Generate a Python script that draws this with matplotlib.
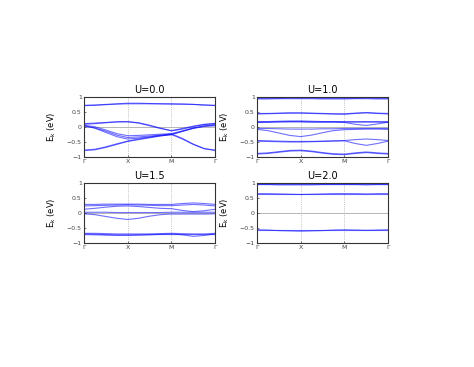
import matplotlib
matplotlib.use('Agg')
import matplotlib.pyplot as plt
import numpy as np

# k-path sample points (Gamma-X-M-Gamma), 13 samples per band
k_points = np.linspace(0, 3, 13)
k_ticks = [0, 1, 2, 3]
k_labels = ['Γ', 'X', 'M', 'Γ']
y_ticks = [-1, -0.5, 0, 0.5, 1]
y_ticklabels = ['−1', '−0.5', '0', '0.5', '1']
titles = ['U=0.0', 'U=1.0', 'U=1.5', 'U=2.0']

# --- band energies (eV) ---
bands_u00 = [
    [0.71, 0.72, 0.74, 0.76, 0.77, 0.77, 0.77, 0.77, 0.76, 0.76, 0.75, 0.73, 0.71],
    [0.72, 0.73, 0.75, 0.77, 0.79, 0.79, 0.78, 0.77, 0.77, 0.76, 0.75, 0.73, 0.72],
    [0.11, 0.13, 0.15, 0.17, 0.18, 0.14, 0.06, -0.04, -0.13, -0.07, 0.01, 0.08, 0.11],
    [0.09, 0.11, 0.14, 0.17, 0.17, 0.13, 0.04, -0.05, -0.12, -0.05, 0.03, 0.09, 0.12],
    [0.06, 0.01, -0.10, -0.22, -0.29, -0.28, -0.26, -0.24, -0.22, -0.13, -0.04, 0.03, 0.06],
    [0.03, -0.03, -0.14, -0.27, -0.35, -0.33, -0.30, -0.27, -0.24, -0.15, -0.05, 0.02, 0.04],
    [0.05, -0.04, -0.18, -0.32, -0.40, -0.37, -0.33, -0.29, -0.26, -0.14, -0.03, 0.04, 0.08],
    [-0.78, -0.76, -0.68, -0.58, -0.48, -0.42, -0.36, -0.30, -0.25, -0.40, -0.58, -0.72, -0.78],
    [-0.77, -0.74, -0.66, -0.56, -0.47, -0.40, -0.34, -0.28, -0.23, -0.38, -0.57, -0.72, -0.77],
]
bands_u10 = [
    [0.93, 0.93, 0.94, 0.94, 0.94, 0.94, 0.93, 0.93, 0.93, 0.94, 0.94, 0.93, 0.93],
    [0.95, 0.95, 0.95, 0.96, 0.96, 0.96, 0.95, 0.95, 0.95, 0.95, 0.96, 0.95, 0.95],
    [0.43, 0.44, 0.45, 0.46, 0.46, 0.45, 0.44, 0.43, 0.42, 0.45, 0.47, 0.45, 0.43],
    [0.45, 0.45, 0.46, 0.47, 0.47, 0.46, 0.45, 0.44, 0.44, 0.46, 0.48, 0.46, 0.45],
    [0.15, 0.16, 0.17, 0.18, 0.18, 0.17, 0.17, 0.17, 0.16, 0.16, 0.16, 0.16, 0.15],
    [0.18, 0.18, 0.19, 0.20, 0.20, 0.19, 0.18, 0.18, 0.18, 0.18, 0.18, 0.18, 0.18],
    [0.16, 0.16, 0.17, 0.17, 0.17, 0.16, 0.16, 0.16, 0.15, 0.09, 0.05, 0.10, 0.16],
    [-0.08, -0.12, -0.20, -0.28, -0.32, -0.27, -0.19, -0.12, -0.09, -0.08, -0.07, -0.07, -0.08],
    [-0.05, -0.05, -0.06, -0.07, -0.07, -0.07, -0.06, -0.06, -0.05, -0.05, -0.05, -0.05, -0.05],
    [-0.45, -0.46, -0.47, -0.48, -0.48, -0.48, -0.47, -0.46, -0.45, -0.42, -0.40, -0.42, -0.45],
    [-0.47, -0.48, -0.49, -0.50, -0.50, -0.49, -0.48, -0.47, -0.46, -0.55, -0.61, -0.55, -0.47],
    [-0.88, -0.86, -0.82, -0.78, -0.77, -0.80, -0.85, -0.89, -0.90, -0.86, -0.83, -0.86, -0.88],
    [-0.90, -0.88, -0.84, -0.80, -0.79, -0.82, -0.87, -0.91, -0.92, -0.88, -0.85, -0.88, -0.90],
]
bands_u15 = [
    [0.28, 0.28, 0.29, 0.29, 0.29, 0.29, 0.28, 0.28, 0.28, 0.31, 0.33, 0.31, 0.28],
    [0.23, 0.24, 0.25, 0.26, 0.27, 0.26, 0.25, 0.24, 0.24, 0.26, 0.28, 0.26, 0.23],
    [0.12, 0.15, 0.19, 0.22, 0.23, 0.21, 0.18, 0.15, 0.14, 0.08, 0.04, 0.07, 0.12],
    [0.02, 0.02, 0.02, 0.01, 0.01, 0.01, 0.01, 0.01, 0.02, 0.02, 0.02, 0.02, 0.02],
    [-0.03, -0.06, -0.12, -0.18, -0.22, -0.18, -0.11, -0.06, -0.04, -0.04, -0.04, -0.04, -0.03],
    [-0.70, -0.71, -0.72, -0.73, -0.73, -0.73, -0.72, -0.71, -0.70, -0.73, -0.78, -0.75, -0.70],
    [-0.68, -0.68, -0.69, -0.70, -0.70, -0.70, -0.70, -0.69, -0.68, -0.69, -0.70, -0.70, -0.68],
    [-0.72, -0.73, -0.74, -0.75, -0.75, -0.74, -0.73, -0.72, -0.72, -0.72, -0.72, -0.72, -0.72],
]
bands_u20 = [
    [0.96, 0.96, 0.96, 0.96, 0.96, 0.96, 0.96, 0.96, 0.96, 0.96, 0.96, 0.96, 0.96],
    [0.94, 0.94, 0.93, 0.93, 0.93, 0.93, 0.94, 0.94, 0.94, 0.94, 0.93, 0.94, 0.94],
    [0.62, 0.62, 0.62, 0.62, 0.62, 0.62, 0.62, 0.62, 0.62, 0.62, 0.62, 0.62, 0.62],
    [0.64, 0.64, 0.63, 0.62, 0.61, 0.62, 0.63, 0.64, 0.64, 0.64, 0.63, 0.64, 0.64],
    [-0.57, -0.57, -0.57, -0.57, -0.57, -0.57, -0.57, -0.57, -0.57, -0.57, -0.57, -0.57, -0.57],
    [-0.56, -0.57, -0.59, -0.60, -0.61, -0.60, -0.59, -0.57, -0.56, -0.57, -0.58, -0.57, -0.56],
]
all_bands = [bands_u00, bands_u10, bands_u15, bands_u20]

fig = plt.figure(figsize=(4.74, 3.67), dpi=100)

# axes boxes in figure fractions (left, bottom, width, height)
boxes = [
    [0.177, 0.572, 0.277, 0.164],
    [0.542, 0.572, 0.277, 0.164],
    [0.177, 0.338, 0.277, 0.164],
    [0.542, 0.338, 0.277, 0.164],
]

for box, title, bands in zip(boxes, titles, all_bands):
    ax = fig.add_axes(box)
    # high-symmetry grid lines and Fermi level
    for kx in k_ticks[1:3]:
        ax.axvline(kx, color='#999999', lw=0.5, ls=':', zorder=1)
    ax.axhline(0, color='#aaaaaa', lw=0.6, zorder=1)
    for band in bands:
        ax.plot(k_points, band, color='#1010ff', lw=0.8, alpha=0.6, zorder=2)
    ax.set_xlim(0, 3)
    ax.set_ylim(-1, 1)
    ax.set_xticks(k_ticks)
    ax.set_xticklabels(k_labels)
    ax.set_yticks(y_ticks)
    ax.set_yticklabels(y_ticklabels)
    ax.tick_params(direction='in', length=1.5, width=0.5, labelsize=4.5,
                   pad=1.5, colors='#444444')
    for sp in ax.spines.values():
        sp.set_linewidth(0.8)
        sp.set_color('#333333')
    ax.set_title(title, fontsize=7, pad=3)
    ax.set_ylabel(r'E$_\mathrm{k}$ (eV)', fontsize=6)
    ax.yaxis.set_label_coords(-0.2, 0.5)

fig.savefig('out.png', dpi=100)
